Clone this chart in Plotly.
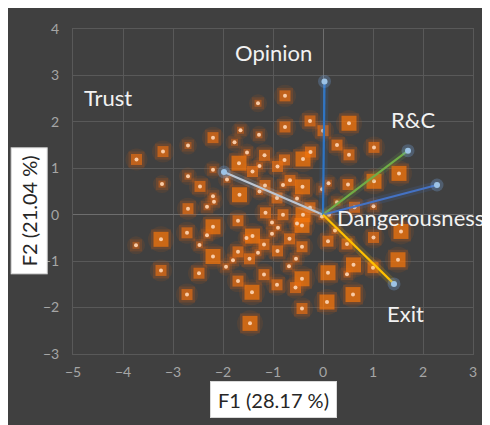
import plotly.graph_objects as go

# observations on the first factorial plane (F1, F2) and how many sit on each spot
obs_f1 = [-1.30, -0.76, -1.65, -2.20, -1.77, -2.70, -3.20, -3.73, -1.28, -1.52,
          -1.17, -1.68, -1.27, -2.20, -1.41, -0.26, 0.52, -0.76, 0.00, 0.28,
          1.02, -0.25, 0.52, -0.77, -0.40, -0.91, 1.52, -0.66, -1.16, -0.80,
          -0.41, -1.27, -0.52, -0.02, 0.11, 0.50, 1.02, 0.28, 0.63, 1.01,
          -0.80, -1.15, -0.40, -0.92, -0.26, -1.67, -1.92, -2.70, -3.22, -2.46,
          -2.20, -2.18, -2.32, -2.70, -0.02, 0.12, -1.70, -2.20, -2.32, -2.72,
          -3.24, -3.74, -2.47, -1.53, -1.41, -1.18, -1.70, -2.20, -1.80, -1.94,
          -1.47, -1.30, -3.24, -2.48, -1.70, -1.42, -2.72, -1.46, -1.18, -1.02,
          -0.90, -0.52, -0.42, 0.24, -1.02, -0.67, 0.10, 0.48, 1.01, 1.56,
          -0.91, -0.42, -0.54, -0.68, -0.42, -0.55, -0.92, 0.10, 0.48, 0.61,
          1.00, 1.50, 0.60, 0.08, -0.42]
obs_f2 = [2.40, 2.56, 1.82, 1.66, 1.56, 1.49, 1.36, 1.19, 1.72, 1.34,
          1.28, 1.11, 1.05, 0.97, 0.93, 2.02, 1.97, 1.89, 1.81, 1.50,
          1.45, 1.35, 1.29, 1.18, 1.20, 1.04, 0.89, 0.74, 0.63, 0.64,
          0.60, 0.50, 0.35, 0.55, 0.68, 0.65, 0.72, 0.27, 0.16, 0.18,
          0.00, 0.04, 0.00, 0.36, 0.15, 0.43, 0.76, 0.83, 0.66, 0.61,
          0.40, 0.28, 0.17, 0.13, -0.04, 0.00, -0.13, -0.26, -0.44, -0.39,
          -0.53, -0.66, -0.65, -0.50, -0.46, -0.64, -0.80, -0.90, -0.98, -1.12,
          -0.95, -0.82, -1.20, -1.26, -1.43, -1.67, -1.72, -2.34, -1.29, -0.17,
          -0.28, -0.19, -0.23, -0.34, -0.41, -0.52, -0.57, -0.63, -0.49, -0.36,
          -0.78, -0.69, -0.95, -1.11, -1.38, -1.57, -1.51, -1.25, -1.28, -1.08,
          -1.14, -0.97, -1.72, -1.88, -2.02]
obs_n = [1, 2, 1, 2, 1, 1, 2, 2, 1, 1,
         2, 3, 1, 1, 2, 2, 3, 2, 2, 2,
         2, 2, 2, 2, 3, 2, 3, 2, 2, 1,
         3, 1, 1, 1, 1, 2, 3, 1, 2, 1,
         2, 2, 3, 2, 2, 3, 1, 1, 1, 2,
         1, 1, 1, 2, 1, 1, 2, 3, 1, 2,
         3, 1, 1, 1, 3, 2, 2, 3, 1, 1,
         2, 1, 2, 2, 2, 3, 2, 3, 2, 1,
         1, 1, 3, 1, 1, 2, 2, 2, 2, 3,
         2, 2, 1, 1, 3, 2, 2, 3, 1, 3,
         2, 3, 3, 3, 2]

# variables (correlation vectors)
var_names = ["Trust", "Opinion", "R&C", "Dangerousness", "Exit"]
var_f1 = [-1.98, 0.03, 1.70, 2.28, 1.42]
var_f2 = [0.92, 2.87, 1.38, 0.64, -1.49]

x_ticks = [-5, -4, -3, -2, -1, 0, 1, 2, 3]
y_ticks = [-3, -2, -1, 0, 1, 2, 3, 4]

BG = "#404040"
GRID = "#595959"
FONT = "Lato"
var_colors = ["#bcc6d3", "#2e75c6", "#70ad47", "#4472c4", "#ffc000"]

sq_size = {1: 7, 2: 11, 3: 15}
sq_color = {1: "rgba(205,98,25,0.8)", 2: "#e56e12", 3: "#f7760a"}

fig = go.Figure()

# soft glow under the points
fig.add_trace(go.Scatter(
    x=obs_f1, y=obs_f2, mode="markers", hoverinfo="skip", showlegend=False,
    marker=dict(symbol="circle", size=[sq_size[n] + 11 for n in obs_n],
                color="rgba(210,95,20,0.16)", line=dict(width=0))))
fig.add_trace(go.Scatter(
    x=obs_f1, y=obs_f2, mode="markers", hoverinfo="skip", showlegend=False,
    marker=dict(symbol="square", size=[sq_size[n] + 5 for n in obs_n],
                color="rgba(215,98,20,0.28)", line=dict(width=0))))
fig.add_trace(go.Scatter(
    x=obs_f1, y=obs_f2, mode="markers", name="Observations", showlegend=False,
    marker=dict(symbol="square", size=[sq_size[n] for n in obs_n],
                color=[sq_color[n] for n in obs_n], line=dict(width=0))))
fig.add_trace(go.Scatter(
    x=obs_f1, y=obs_f2, mode="markers", hoverinfo="skip", showlegend=False,
    marker=dict(symbol="circle", size=4, color="#f9cba6", line=dict(width=0))))

# vectors from the origin
for name, vx, vy, col in zip(var_names, var_f1, var_f2, var_colors):
    fig.add_trace(go.Scatter(
        x=[0, vx], y=[0, vy], mode="lines", hoverinfo="skip", showlegend=False,
        line=dict(color=col, width=8), opacity=0.16))
    fig.add_trace(go.Scatter(
        x=[0, vx], y=[0, vy], mode="lines", name=name, showlegend=False,
        line=dict(color=col, width=2.2)))
fig.add_trace(go.Scatter(
    x=var_f1, y=var_f2, mode="markers", hoverinfo="skip", showlegend=False,
    marker=dict(size=13, color="rgba(120,170,230,0.28)", line=dict(width=0))))
fig.add_trace(go.Scatter(
    x=var_f1, y=var_f2, mode="markers", text=var_names, showlegend=False,
    marker=dict(size=6, color="#9dc3e6", line=dict(width=0))))

# variable labels
label_pos = {"Trust": (-4.3, 2.53, "center"), "Opinion": (-1.0, 3.49, "center"),
             "R&C": (1.8, 2.06, "center"), "Dangerousness": (0.24, -0.06, "left"),
             "Exit": (1.64, -2.13, "center")}
for name in var_names:
    lx, ly, anc = label_pos[name]
    fig.add_annotation(x=lx, y=ly, text=name, showarrow=False, xanchor=anc, yanchor="middle",
                       font=dict(family=FONT, size=22, color="#f2f2f2"))

# axis titles in white boxes
fig.add_annotation(xref="paper", yref="paper", x=0.5, y=-0.141, text="F1 (28.17 %)",
                   xanchor="center", yanchor="middle",
                   showarrow=False, bgcolor="white", bordercolor="#d9d9d9", borderwidth=1,
                   borderpad=4, width=117, height=27,
                   font=dict(family=FONT, size=20, color="#262626"))
fig.add_annotation(xref="paper", yref="paper", x=-0.11, y=0.439, text="F2 (21.04 %)",
                   xanchor="center", yanchor="middle",
                   textangle=-90, showarrow=False, bgcolor="white", bordercolor="#d9d9d9",
                   borderwidth=1, borderpad=4, width=117, height=27,
                   font=dict(family=FONT, size=20, color="#262626"))

fig.update_xaxes(range=[-5, 3], tickvals=x_ticks, showgrid=True, gridcolor=GRID, gridwidth=1,
                 zeroline=True, zerolinecolor="#6e6e6e", zerolinewidth=1,
                 showline=True, linecolor=GRID, mirror=True, ticks="", ticklabelstandoff=5,
                 tickfont=dict(family=FONT, size=14, color="#a6a6a6"))
fig.update_yaxes(range=[-3, 4], tickvals=y_ticks, showgrid=True, gridcolor=GRID, gridwidth=1,
                 zeroline=True, zerolinecolor="#6e6e6e", zerolinewidth=1,
                 showline=True, linecolor=GRID, mirror=True, ticks="", ticklabelstandoff=10,
                 tickfont=dict(family=FONT, size=14, color="#a6a6a6"))

fig.update_layout(width=490, height=425, margin=dict(l=65, r=25, t=17, b=79),
                  paper_bgcolor=BG, plot_bgcolor=BG, showlegend=False)

fig.write_html("out.html")
